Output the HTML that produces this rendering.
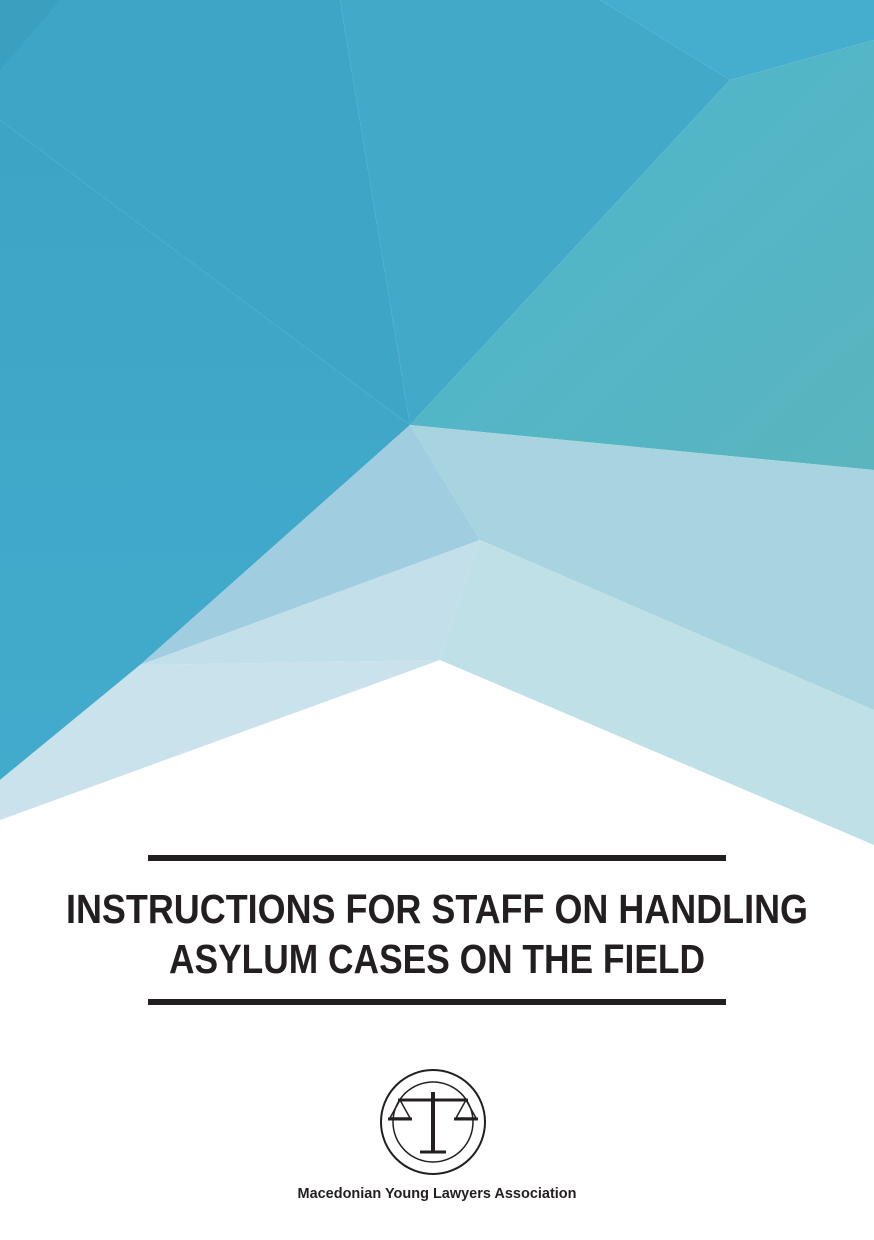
<!DOCTYPE html>
<html><head><meta charset="utf-8"><style>
html,body{margin:0;padding:0;background:#fff;}
svg{display:block;}
</style></head><body>
<svg width="874" height="1240" viewBox="0 0 874 1240" xmlns="http://www.w3.org/2000/svg">
<defs>
<linearGradient id="gr" x1="0" y1="0" x2="1" y2="1">
<stop offset="0" stop-color="#4db6ce"/><stop offset="1" stop-color="#5ab5be"/>
</linearGradient>
<linearGradient id="gl" x1="0" y1="0" x2="0" y2="1">
<stop offset="0" stop-color="#3ea4c6"/><stop offset="1" stop-color="#42abcc"/>
</linearGradient>
</defs>
<g>
<polygon points="0,0 340,0 410,425 0,120" fill="#3ea5c6"/>
<polygon points="0,0 60,0 0,70" fill="#3b9fc0"/>
<polygon points="0,120 410,425 140,665 0,780" fill="url(#gl)"/>
<polygon points="340,0 600,0 730,80 410,425" fill="#42a9c9"/>
<polygon points="600,0 874,0 874,40 730,80" fill="#45aecf"/>
<polygon points="730,80 874,40 874,470 410,425" fill="url(#gr)"/>
<polygon points="410,425 874,470 874,710 480,540" fill="#a8d4e0"/>
<polygon points="410,425 480,540 140,665" fill="#a1cde0"/>
<polygon points="140,665 480,540 440,660" fill="#c3dfea"/>
<polygon points="480,540 874,710 874,845 440,660" fill="#bfe0e6"/>
<polygon points="0,780 140,665 440,660 0,820" fill="#c9e2ec"/>
</g>
<rect x="148" y="855" width="578" height="6" fill="#231f20"/>
<rect x="148" y="999" width="578" height="6" fill="#231f20"/>
<text x="437" y="923" text-anchor="middle" textLength="742" lengthAdjust="spacingAndGlyphs" font-family="Liberation Sans, sans-serif" font-weight="bold" font-size="41" fill="#231f20">INSTRUCTIONS FOR STAFF ON HANDLING</text>
<text x="437" y="973" text-anchor="middle" textLength="536" lengthAdjust="spacingAndGlyphs" font-family="Liberation Sans, sans-serif" font-weight="bold" font-size="41" fill="#231f20">ASYLUM CASES ON THE FIELD</text>
<g stroke="#231f20" fill="none">
<circle cx="433" cy="1122" r="52" stroke-width="2"/>
<circle cx="433" cy="1122" r="40" stroke-width="1.5"/>
<line x1="433" y1="1092" x2="433" y2="1152" stroke-width="4"/>
<line x1="398" y1="1100" x2="468" y2="1100" stroke-width="3"/>
<polyline points="400,1100 390,1118 410,1118 400,1100" stroke-width="1.5"/>
<polyline points="466,1100 456,1118 476,1118 466,1100" stroke-width="1.5"/>
<line x1="388" y1="1119" x2="412" y2="1119" stroke-width="3"/>
<line x1="454" y1="1119" x2="478" y2="1119" stroke-width="3"/>
<line x1="420" y1="1152" x2="446" y2="1152" stroke-width="3"/>
</g>
<text x="437" y="1198" text-anchor="middle" textLength="279" lengthAdjust="spacingAndGlyphs" font-family="Liberation Sans, sans-serif" font-weight="bold" font-size="15" fill="#231f20">Macedonian Young Lawyers Association</text>
</svg>
</body></html>
